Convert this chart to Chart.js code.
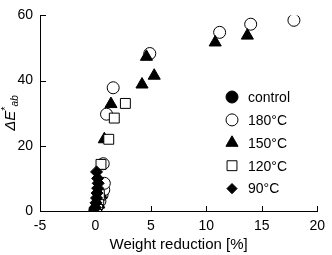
<!DOCTYPE html>
<html><head><meta charset="utf-8">
<script src="https://cdn.jsdelivr.net/npm/chart.js@4/dist/chart.umd.min.js"></script>
<style>html,body{margin:0;padding:0;background:#fff}#wrap{width:332px;height:255px;position:relative}</style>
</head><body><div id="wrap"><canvas id="c" width="332" height="255"></canvas></div>
<script>
const seriesNames = ["control", "180°C", "150°C", "120°C", "90°C"];
const controlX = [0.0, 0.05, -0.05];
const controlY = [0.0, 0.5, 0.3];
const t90X = [0.0, 0.05, 0.1, 0.15, 0.2, 0.25, 0.2, 0.1];
const t90Y = [1.0, 2.5, 4.0, 5.5, 7.0, 8.5, 10.0, 12.0];
const t120X = [0.1, 0.2, 0.3, 0.35, 0.5, 1.2, 1.7, 2.7];
const t120Y = [1.0, 2.0, 3.5, 5.0, 14.3, 22.0, 28.5, 33.0];
const t150X = [0.3, 0.5, 0.8, 1.4, 4.2, 5.3, 4.6, 10.8, 13.7];
const t150Y = [2.0, 5.0, 22.0, 32.8, 38.8, 41.5, 47.3, 51.7, 53.8];
const t180X = [0.2, 0.4, 0.6, 0.75, 0.8, 0.7, 1.0, 1.6, 4.9, 11.2, 14.0, 17.9];
const t180Y = [1.5, 3.0, 5.0, 6.5, 8.5, 14.5, 29.7, 37.8, 48.3, 54.8, 57.3, 58.5];
const xTicks = [-5, 0, 5, 10, 15, 20];
const yTicks = [0, 20, 40, 60];

const pts = (xs, ys) => xs.map((x, i) => ({x: x, y: ys[i]}));
const FONT = "'Liberation Sans', Arial, sans-serif";

const styles = [
  {style: 'circle', r: 6, fill: '#000'},
  {style: 'circle', r: 6, fill: '#fff'},
  {style: 'triangle', r: 7, fill: '#000'},
  {style: 'rect', r: 7, fill: '#fff'},
  {style: 'rectRot', r: 6, fill: '#000'}
];
const dataArr = [pts(controlX, controlY), pts(t180X, t180Y), pts(t150X, t150Y), pts(t120X, t120Y), pts(t90X, t90Y)];
// draw order: 90, 120, 150, 180, control (control on top)
const order = [4, 3, 2, 1, 0];
const datasets = order.map(i => ({
  label: seriesNames[i],
  data: dataArr[i],
  pointStyle: styles[i].style,
  pointRadius: styles[i].r,
  pointHoverRadius: styles[i].r,
  backgroundColor: styles[i].fill,
  borderColor: '#000',
  borderWidth: 1,
  showLine: false
}));

function drawMarker(ctx, style, x, y, r, fill) {
  ctx.save();
  ctx.beginPath();
  if (style === 'circle') ctx.arc(x, y, r, 0, Math.PI * 2);
  else if (style === 'triangle') {
    ctx.moveTo(x, y - r);
    ctx.lineTo(x + r * 0.866, y + r * 0.5);
    ctx.lineTo(x - r * 0.866, y + r * 0.5);
    ctx.closePath();
  } else if (style === 'rect') {
    const s = r * Math.SQRT1_2;
    ctx.rect(x - s, y - s, 2 * s, 2 * s);
  } else if (style === 'rectRot') {
    const s = r * Math.SQRT1_2 * 1.2;
    ctx.moveTo(x, y - s); ctx.lineTo(x + s, y); ctx.lineTo(x, y + s); ctx.lineTo(x - s, y); ctx.closePath();
  }
  ctx.fillStyle = fill; ctx.fill();
  ctx.strokeStyle = '#000'; ctx.lineWidth = 1; ctx.stroke();
  ctx.restore();
}

const custom = {
  id: 'custom',
  afterDraw(chart) {
    const ctx = chart.ctx;
    const xs = chart.scales.x, ys = chart.scales.y;
    const ca = chart.chartArea;
    ctx.save();
    ctx.strokeStyle = '#000'; ctx.lineWidth = 1;
    // inward ticks
    xTicks.forEach(v => {
      const px = Math.round(xs.getPixelForValue(v)) + 0.5;
      ctx.beginPath(); ctx.moveTo(px, ca.bottom); ctx.lineTo(px, ca.bottom - 5); ctx.stroke();
    });
    yTicks.forEach(v => {
      const py = Math.round(ys.getPixelForValue(v)) + 0.5;
      ctx.beginPath(); ctx.moveTo(ca.left, py); ctx.lineTo(ca.left + 6, py); ctx.stroke();
    });
    // legend
    const lx = 232, ly0 = 97, dy = 22.9;
    ctx.font = '14px ' + FONT;
    ctx.fillStyle = '#000';
    ctx.textBaseline = 'middle';
    ctx.textAlign = 'left';
    seriesNames.forEach((n, i) => {
      const y = ly0 + i * dy;
      drawMarker(ctx, styles[i].style, lx, y, styles[i].r, styles[i].fill);
      ctx.fillStyle = '#000';
      ctx.fillText(n, lx + 16, y + 1);
    });
    // y axis title: ΔE*ab rotated
    ctx.translate(11, 113);
    ctx.rotate(-Math.PI / 2);
    ctx.textBaseline = 'middle';
    const parts = [
      {t: 'ΔE', f: 'italic 15px ' + FONT, dy: 0},
      {t: '*', f: '11px ' + FONT, dy: -5},
      {t: 'ab', f: 'italic 10px ' + FONT, dy: 4}
    ];
    let total = 0;
    parts.forEach(p => { ctx.font = p.f; total += ctx.measureText(p.t).width; });
    let cx = -total / 2;
    parts.forEach(p => {
      ctx.font = p.f;
      ctx.fillText(p.t, cx, p.dy);
      cx += ctx.measureText(p.t).width;
    });
    ctx.restore();
  }
};

new Chart(document.getElementById('c'), {
  type: 'scatter',
  data: {datasets: datasets},
  options: {
    responsive: false,
    animation: false,
    events: [],
    layout: {padding: {top: 7, right: 10, left: 0, bottom: 0}},
    plugins: {legend: {display: false}, tooltip: {enabled: false}},
    scales: {
      x: {
        type: 'linear', min: -5, max: 20,
        afterBuildTicks: s => { s.ticks = xTicks.map(v => ({value: v})); },
        afterFit: s => { s.height = 44; },
        grid: {display: true, drawOnChartArea: false, drawTicks: false},
        border: {display: true, color: '#000', width: 1},
        ticks: {color: '#000', font: {size: 14, family: FONT}, padding: 7, maxRotation: 0},
        title: {display: true, text: 'Weight reduction [%]', color: '#000', font: {size: 15, family: FONT}, padding: {top: 0, bottom: 1}}
      },
      y: {
        type: 'linear', min: 0, max: 60,
        afterBuildTicks: s => { s.ticks = yTicks.map(v => ({value: v})); },
        afterFit: s => { s.width = 40; },
        grid: {display: true, drawOnChartArea: false, drawTicks: false},
        border: {display: true, color: '#000', width: 1},
        ticks: {color: '#000', font: {size: 14, family: FONT}, padding: 7}
      }
    }
  },
  plugins: [custom]
});
</script></body></html>
